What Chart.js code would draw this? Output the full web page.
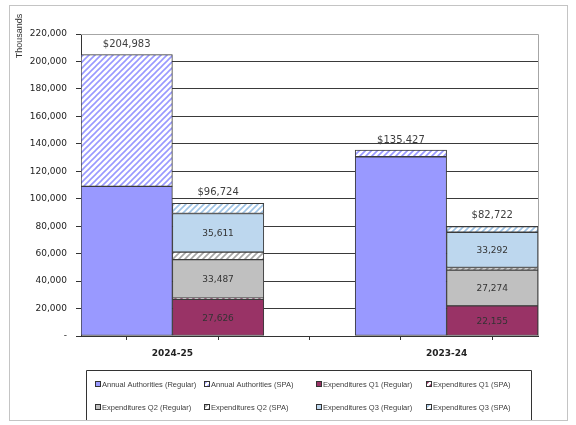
<!DOCTYPE html>
<html>
<head>
<meta charset="utf-8">
<script src="https://cdn.jsdelivr.net/npm/chart.js@4.4.1/dist/chart.umd.min.js"></script>
<style>
    html, body { margin: 0; padding: 0; background: #fff; }
    #wrap { position: relative; width: 576px; height: 425px; }
    #frame { position: absolute; left: 9px; top: 5px; width: 557px; height: 414px; border: 1px solid #c4c4c4; }
    #chart { position: absolute; left: 0; top: 0; }
</style>
</head>
<body>
<div id="wrap">
    <div id="frame"></div>
    <canvas id="chart" width="576" height="425"></canvas>
</div>
<script>
// Veriler (binlik)
const years = ['2024-25', '2023-24'];
const axisLabels = ['', '2024-25', '', '', '2023-24', ''];

const authRegular = [109000, 130600];
const authSpa = [95983, 4827];
const q1Regular = [26660, 21900];
const q1Spa = [966, 0];
const q2Regular = [28030, 26100];
const q2Spa = [5457, 1900];
const q3Regular = [28140, 25700];
const q3Spa = [7474, 4100];

// Etiket metinleri
const q1Labels = [27626, 22155];
const q2Labels = [33487, 27274];
const q3Labels = [35611, 33292];
const authTotals = [204983, 135427];
const expTotals = [96724, 82722];

const seriesNames = [
    'Annual Authorities (Regular)', 'Annual Authorities (SPA)',
    'Expenditures Q1 (Regular)', 'Expenditures Q1 (SPA)',
    'Expenditures Q2 (Regular)', 'Expenditures Q2 (SPA)',
    'Expenditures Q3 (Regular)', 'Expenditures Q3 (SPA)'
];

// 5 sütun: yetki, harcama, boşluk, yetki, harcama
const authSlots = [0, 3];
const expSlots = [1, 4];

function toSlots(values, slots) {
    const out = [null, null, null, null, null];
    slots.forEach((s, i) => { out[s] = values[i]; });
    return out;
}

const canvas = document.getElementById('chart');
const mainCtx = canvas.getContext('2d');

// Taralı desen
function hatch(color) {
    const c = document.createElement('canvas');
    c.width = 6; c.height = 6;
    const g = c.getContext('2d');
    g.fillStyle = '#fff';
    g.fillRect(0, 0, 6, 6);
    g.strokeStyle = color;
    g.lineWidth = 1.6;
    g.beginPath();
    g.moveTo(0, 6); g.lineTo(6, 0);
    g.moveTo(-3, 3); g.lineTo(3, -3);
    g.moveTo(3, 9); g.lineTo(9, 3);
    g.stroke();
    return mainCtx.createPattern(c, 'repeat');
}

const fills = [
    '#9999FF', hatch('#9999FF'),
    '#993366', hatch('#993366'),
    '#C0C0C0', hatch('#A6A6A6'),
    '#BDD7EE', hatch('#9DC3E6')
];

const seriesData = [
    toSlots(authRegular, authSlots), toSlots(authSpa, authSlots),
    toSlots(q1Regular, expSlots), toSlots(q1Spa, expSlots),
    toSlots(q2Regular, expSlots), toSlots(q2Spa, expSlots),
    toSlots(q3Regular, expSlots), toSlots(q3Spa, expSlots)
];

const datasets = seriesNames.map((name, i) => ({
    label: name,
    data: seriesData[i],
    backgroundColor: fills[i],
    borderColor: '#3a3a3a',
    borderWidth: 1,
    borderSkipped: false,
    xAxisID: 'x',
    yAxisID: 'y',
    categoryPercentage: 1,
    barPercentage: 1
}));

function fmt(v) {
    return v.toLocaleString('en-US');
}

// Çizim alanı çerçevesi
const plotFrame = {
    id: 'plotFrame',
    beforeDatasetsDraw(chart) {
        const a = chart.chartArea;
        const ctx = chart.ctx;
        ctx.save();
        ctx.strokeStyle = '#a6a6a6';
        ctx.lineWidth = 1;
        ctx.beginPath();
        ctx.moveTo(a.left, Math.round(a.top) + 0.5);
        ctx.lineTo(Math.round(a.right) + 0.5, Math.round(a.top) + 0.5);
        ctx.lineTo(Math.round(a.right) + 0.5, a.bottom);
        ctx.stroke();
        ctx.restore();
    }
};

// Çubuk etiketleri
const barLabels = {
    id: 'barLabels',
    afterDatasetsDraw(chart) {
        const ctx = chart.ctx;
        ctx.save();
        ctx.textAlign = 'center';
        ctx.textBaseline = 'middle';
        ctx.fillStyle = '#333';
        ctx.font = '9px "DejaVu Sans"';
        [[2, q1Labels], [4, q2Labels], [6, q3Labels]].forEach(([ds, labels]) => {
            const meta = chart.getDatasetMeta(ds);
            expSlots.forEach((slot, j) => {
                const el = meta.data[slot];
                ctx.fillText(fmt(labels[j]), el.x, (el.y + el.base) / 2 + 1);
            });
        });
        ctx.font = '10px "DejaVu Sans"';
        ctx.fillStyle = '#404040';
        const aMeta = chart.getDatasetMeta(1);
        authSlots.forEach((slot, j) => {
            const el = aMeta.data[slot];
            ctx.fillText('$' + fmt(authTotals[j]), el.x, el.y - 10);
        });
        const eMeta = chart.getDatasetMeta(7);
        expSlots.forEach((slot, j) => {
            const el = eMeta.data[slot];
            ctx.fillText('$' + fmt(expTotals[j]), el.x, el.y - 11);
        });
        ctx.restore();
    }
};

// Eksen başlığı ve açıklama kutusu
const extras = {
    id: 'extras',
    afterDraw(chart) {
        const ctx = chart.ctx;
        ctx.save();
        ctx.fillStyle = '#333';
        ctx.font = '9px "Liberation Sans"';
        ctx.textAlign = 'center';
        ctx.textBaseline = 'middle';
        ctx.translate(20, 36);
        ctx.rotate(-Math.PI / 2);
        ctx.fillText('Thousands', 0, 0);
        ctx.restore();

        // açıklama
        ctx.save();
        ctx.strokeStyle = '#333';
        ctx.lineWidth = 1;
        ctx.beginPath();
        ctx.moveTo(86.5, 420);
        ctx.lineTo(86.5, 370.5);
        ctx.lineTo(531.5, 370.5);
        ctx.lineTo(531.5, 420);
        ctx.stroke();

        const cols = [95, 204, 316, 426];
        const rows = [384, 407];
        ctx.font = '7.5px "Liberation Sans"';
        ctx.textAlign = 'left';
        ctx.textBaseline = 'middle';
        chart.data.datasets.forEach((ds, i) => {
            const x = cols[i % 4];
            const y = rows[Math.floor(i / 4)];
            ctx.fillStyle = ds.backgroundColor;
            ctx.fillRect(x, y - 3, 5, 5);
            ctx.strokeStyle = '#333';
            ctx.strokeRect(x + 0.5, y - 2.5, 5, 5);
            ctx.fillStyle = '#404040';
            ctx.fillText(ds.label, x + 7, y + 0.5);
        });
        ctx.restore();
    }
};

new Chart(canvas, {
    type: 'bar',
    data: {
        labels: ['a', 'b', 'c', 'd', 'e'],
        datasets: datasets
    },
    options: {
        responsive: false,
        devicePixelRatio: 1,
        animation: false,
        layout: {
            padding: { left: 0, right: 38, top: 34, bottom: 59 }
        },
        plugins: {
            legend: { display: false },
            tooltip: { enabled: false }
        },
        scales: {
            x: {
                display: false,
                stacked: true
            },
            x2: {
                type: 'category',
                axis: 'x',
                position: 'bottom',
                labels: axisLabels,
                offset: false,
                grid: {
                    drawOnChartArea: false,
                    color: '#333',
                    tickLength: 4
                },
                border: { color: '#333' },
                ticks: {
                    autoSkip: false,
                    maxRotation: 0,
                    padding: 8,
                    color: '#222',
                    font: { family: 'DejaVu Sans', size: 9, weight: 'bold' }
                },
                afterFit: function(scale) { scale.height = 30; }
            },
            y: {
                stacked: true,
                min: 0,
                max: 220000,
                ticks: {
                    stepSize: 20000,
                    padding: 9,
                    color: '#222',
                    font: { family: 'DejaVu Sans', size: 9 },
                    callback: function(value) {
                        return value === 0 ? '-' : value.toLocaleString('en-US');
                    }
                },
                grid: {
                    color: function(c) {
                        return c.tick && c.tick.value === 220000 ? '#a6a6a6' : '#3a3a3a';
                    },
                    tickColor: '#333',
                    tickLength: 5
                },
                border: { color: '#333' },
                afterFit: function(scale) { scale.width = 81; }
            }
        }
    },
    plugins: [plotFrame, barLabels, extras]
});
</script>
</body>
</html>
